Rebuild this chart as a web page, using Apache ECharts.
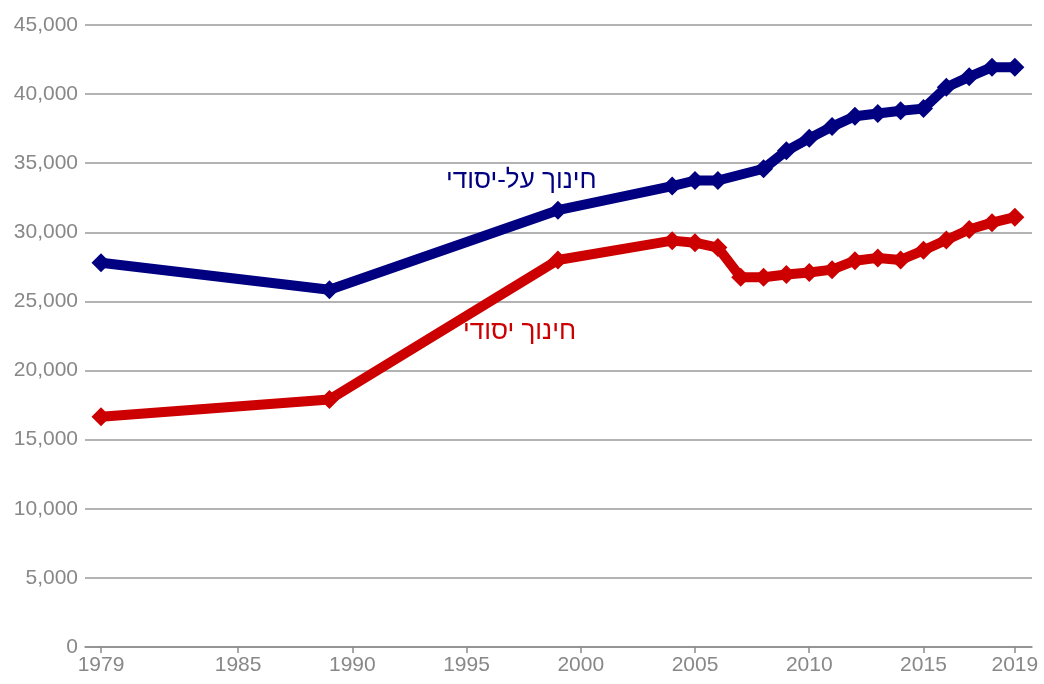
<!DOCTYPE html>
<html>
<head>
<meta charset="utf-8">
<script src="https://cdn.jsdelivr.net/npm/echarts@6/dist/echarts.min.js"></script>
<style>
  html, body { margin: 0; padding: 0; background: #fff; }
  #chart { width: 1044px; height: 684px; }
</style>
</head>
<body>
<div id="chart"></div>
<script>
// שנים ונתונים
var secondaryYears = [1979, 1989, 1999, 2004, 2005, 2006, 2008, 2009, 2010, 2011, 2012, 2013, 2014, 2015, 2016, 2017, 2018, 2019];
var secondaryValues = [27800, 25850, 31600, 33350, 33750, 33750, 34600, 35900, 36800, 37650, 38400, 38600, 38800, 38950, 40500, 41250, 41950, 41950];

var primaryYears = [1979, 1989, 1999, 2004, 2005, 2006, 2007, 2008, 2009, 2010, 2011, 2012, 2013, 2014, 2015, 2016, 2017, 2018, 2019];
var primaryValues = [16650, 17900, 28000, 29400, 29250, 28900, 26750, 26750, 26950, 27100, 27300, 27950, 28150, 28000, 28700, 29450, 30200, 30700, 31100];

var xTickYears = [1979, 1985, 1990, 1995, 2000, 2005, 2010, 2015, 2019];

function pairs(xs, ys) {
    var out = [];
    for (var i = 0; i < xs.length; i++) out.push([xs[i], ys[i]]);
    return out;
}

var chart = echarts.init(document.getElementById('chart'));
var labelColor = '#888888';
var option = {
    animation: false,
    grid: { left: 85, right: 12, top: 25, bottom: 37 },
    xAxis: {
        type: 'value',
        min: 1978.3,
        max: 2019.75,
        axisLine: { show: true, lineStyle: { color: '#8c8c8c', width: 1.5 } },
        axisTick: { show: true, customValues: xTickYears, length: 6, lineStyle: { color: '#8c8c8c', width: 1.5 } },
        axisLabel: {
            customValues: xTickYears, color: labelColor, fontSize: 21, fontFamily: 'Liberation Sans, Arial', margin: 8,
            formatter: function (v) { return String(v); }
        },
        splitLine: { show: false }
    },
    yAxis: {
        type: 'value',
        min: 0,
        max: 45000,
        interval: 5000,
        axisLine: { show: false },
        axisTick: { show: false },
        axisLabel: {
            color: labelColor, fontSize: 21, fontFamily: 'Liberation Sans, Arial', margin: 7,
            formatter: function (v) { return v.toLocaleString('en-US'); }
        },
        splitLine: { lineStyle: { color: '#9a9a9a', width: 1.5 } }
    },
    series: [
        {
            name: 'חינוך על-יסודי',
            type: 'line',
            data: pairs(secondaryYears, secondaryValues),
            symbol: 'diamond',
            symbolSize: 19,
            lineStyle: { color: '#000080', width: 10 },
            itemStyle: { color: '#000080' }
        },
        {
            name: 'חינוך יסודי',
            type: 'line',
            data: pairs(primaryYears, primaryValues),
            symbol: 'diamond',
            symbolSize: 19,
            lineStyle: { color: '#cc0000', width: 10 },
            itemStyle: { color: '#cc0000' }
        }
    ],
    graphic: [
        { type: 'text', left: 446, top: 168, style: { text: 'חינוך על-יסודי', fill: '#000080', font: '26px "Liberation Sans", Arial', direction: 'rtl' } },
        { type: 'text', left: 463, top: 319, style: { text: 'חינוך יסודי', fill: '#cc0000', font: '26px "Liberation Sans", Arial', direction: 'rtl' } }
    ]
};
chart.setOption(option);
</script>
</body>
</html>
